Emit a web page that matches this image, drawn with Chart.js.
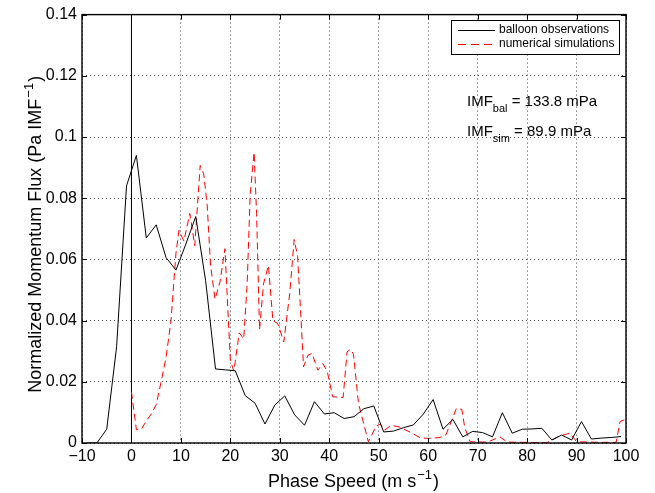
<!DOCTYPE html>
<html>
<head>
<meta charset="utf-8">
<script src="https://cdn.jsdelivr.net/npm/chart.js@4.4.1/dist/chart.umd.min.js"></script>
<style>
html,body{margin:0;padding:0;background:#fff;}
#wrap{width:655px;height:493px;}
</style>
</head>
<body>
<div id="wrap"><canvas id="c" width="655" height="493"></canvas></div>
<script>
// ---- data ----
const balloonX = [-9,-7,-5,-3,-1,1,3,5,7,9,11,13,15,17,19,21,23,25,27,29,31,33,35,37,39,41,43,45,47,49,51,53,55,57,59,61,63,65,67,69,71,73,75,77,79,81,83,85,87,89,91,93,95,97,99];
const balloonY = [0,0,0.0045,0.0315,0.084,0.094,0.067,0.0713,0.0606,0.0565,0.065,0.074,0.053,0.0242,0.0239,0.0236,0.0155,0.013,0.0062,0.0124,0.0154,0.0092,0.0058,0.0135,0.0095,0.0099,0.008,0.0086,0.0112,0.0121,0.0036,0.0039,0.005,0.0059,0.0094,0.0142,0.0045,0.0077,0.002,0.0038,0.0034,0.002,0.0099,0.0032,0.0045,0.0046,0.0048,0.001,0.0026,0.001,0.007,0.0013,0.0016,0.0018,0.0021];

const simX = [0,1,2,3,4,5,6,7,8,9,9.6,10.6,11.8,12.8,13.9,14.6,15.3,16,16.9,17.9,18.9,19.6,20,20.7,21.8,22.7,23.4,24,24.8,25.3,25.9,26.7,27.7,28.6,29.6,30.8,32,32.9,33.6,34.8,35.7,36.5,37.7,38.7,39.6,40.7,42.8,43.6,44.3,44.9,45.9,47.9,49.5,50.3,51.2,52.5,54.2,56.4,58.4,60,62.4,63.6,65.7,66.8,67.4,68.5,72,74.5,76,80,84,86.6,88.7,90,95,98,98.8,100];
const simY = [0.0167,0.0043,0.0045,0.0072,0.0095,0.0125,0.02,0.028,0.04,0.062,0.0695,0.066,0.075,0.0645,0.0907,0.088,0.078,0.058,0.047,0.0526,0.0635,0.040,0.027,0.0235,0.036,0.034,0.052,0.081,0.095,0.075,0.037,0.052,0.058,0.040,0.039,0.033,0.0488,0.0665,0.061,0.0249,0.0287,0.0293,0.0238,0.026,0.0233,0.0151,0.0149,0.0298,0.0306,0.029,0.013,0.0004,0.0055,0.0062,0.0042,0.0058,0.0052,0.0035,0.0017,0.0015,0.0018,0.0027,0.0113,0.011,0.005,0.0004,0.0003,0.002,0.0003,0.0002,0.0001,0.0023,0.0032,0.0004,0.0002,0.0002,0.007,0.0078];

const zeroLineX = 0;
const xTicks = [-10,0,10,20,30,40,50,60,70,80,90,100];
const yTicks = [0,0.02,0.04,0.06,0.08,0.1,0.12,0.14];
const seriesNames = ['balloon observations','numerical simulations'];
const annotations = [['IMF','bal',' = 133.8 mPa'],['IMF','sim',' = 89.9 mPa']];
const xTitle = ['Phase Speed (m s','\u22121',')'];
const yTitle = ['Normalized Momentum Flux (Pa IMF','\u22121',')'];

const FONT = '"Liberation Sans", Arial, Helvetica, sans-serif';

function pts(xs, ys){ return xs.map((v,i)=>({x:v,y:ys[i]})); }

function drawSup(ctx, parts, x, y, size, align){
  ctx.font = size+'px '+FONT;
  const w0 = ctx.measureText(parts[0]).width;
  ctx.font = Math.round(size*0.7)+'px '+FONT;
  const w1 = ctx.measureText(parts[1]).width;
  ctx.font = size+'px '+FONT;
  const w2 = ctx.measureText(parts[2]).width;
  let sx = align==='center' ? x-(w0+w1+w2+3)/2 : x;
  ctx.textAlign='left'; ctx.textBaseline='alphabetic';
  ctx.fillText(parts[0], sx, y);
  ctx.font = Math.round(size*0.7)+'px '+FONT;
  ctx.fillText(parts[1], sx+w0+1, y-size*0.45);
  ctx.font = size+'px '+FONT;
  ctx.fillText(parts[2], sx+w0+w1+2, y);
}

const decor = {
  id:'decor',
  afterDraw(chart){
    const {ctx, chartArea:a, scales} = chart;
    const xs = scales.x, ys = scales.y;
    ctx.save();
    ctx.strokeStyle='#000'; ctx.fillStyle='#000';
    ctx.lineWidth=1;
    ctx.beginPath();
    xs.ticks.forEach(t=>{
      const p = Math.round(xs.getPixelForValue(t.value))+0.5;
      ctx.moveTo(p,a.bottom); ctx.lineTo(p,a.bottom-5);
      ctx.moveTo(p,a.top); ctx.lineTo(p,a.top+5);
    });
    ys.ticks.forEach(t=>{
      const p = Math.round(ys.getPixelForValue(t.value))+0.5;
      ctx.moveTo(a.left,p); ctx.lineTo(a.left+5,p);
      ctx.moveTo(a.right,p); ctx.lineTo(a.right-5,p);
    });
    ctx.stroke();
    ctx.lineWidth=1.4;
    ctx.strokeRect(a.left, a.top, a.right-a.left, a.bottom-a.top);

    // legend
    const lx=451, ly=20, lw=168, lh=34;
    ctx.fillStyle='#fff';
    ctx.fillRect(lx,ly,lw,lh);
    ctx.lineWidth=1; ctx.strokeStyle='#000';
    ctx.strokeRect(lx+0.5,ly+0.5,lw,lh);
    ctx.beginPath(); ctx.moveTo(458,30.5); ctx.lineTo(495,30.5); ctx.stroke();
    ctx.strokeStyle='#ff0000'; ctx.setLineDash([8,5]);
    ctx.beginPath(); ctx.moveTo(458,44.5); ctx.lineTo(495,44.5); ctx.stroke();
    ctx.setLineDash([]);
    ctx.fillStyle='#000'; ctx.font='12px '+FONT; ctx.textAlign='left'; ctx.textBaseline='middle';
    ctx.fillText(seriesNames[0], 499, 30);
    ctx.fillText(seriesNames[1], 499, 44);

    // annotations with subscripts
    const baseY=[106,136];
    annotations.forEach((parts,i)=>{
      let x=467; const y=baseY[i];
      ctx.textBaseline='alphabetic';
      ctx.font='15px '+FONT; ctx.fillText(parts[0],x,y); x+=ctx.measureText(parts[0]).width;
      ctx.font='11px '+FONT; ctx.fillText(parts[1],x,y+6); x+=ctx.measureText(parts[1]).width;
      ctx.font='15px '+FONT; ctx.fillText(parts[2],x,y);
    });

    // axis titles
    ctx.fillStyle='#000';
    drawSup(ctx, xTitle, (a.left+a.right)/2, 487, 18, 'center');
    ctx.translate(41, (a.top+a.bottom)/2 + 5);
    ctx.rotate(-Math.PI/2);
    drawSup(ctx, yTitle, 0, 0, 18, 'center');
    ctx.restore();
  }
};

new Chart(document.getElementById('c'), {
  type:'line',
  data:{
    datasets:[
      {label:seriesNames[0], data:pts(balloonX,balloonY), borderColor:'#000', borderWidth:1, pointRadius:0, tension:0, fill:false},
      {label:seriesNames[1], data:pts(simX,simY), borderColor:'#ff0000', borderWidth:1, borderDash:[7,4], pointRadius:0, tension:0, fill:false},
      {label:'zero', data:[{x:zeroLineX,y:yTicks[0]},{x:zeroLineX,y:yTicks[yTicks.length-1]}], borderColor:'#000', borderWidth:1, pointRadius:0, fill:false}
    ]
  },
  options:{
    responsive:false, animation:false, devicePixelRatio:1,
    layout:{padding:{left:0,top:14,right:29,bottom:0}},
    plugins:{legend:{display:false}, tooltip:{enabled:false}},
    scales:{
      x:{
        type:'linear', min:xTicks[0], max:xTicks[xTicks.length-1],
        afterBuildTicks:s=>{s.ticks=xTicks.map(v=>({value:v}));},
        afterFit:s=>{s.height=50;},
        ticks:{padding:4, color:'#000', font:{family:FONT,size:16}, maxRotation:0, autoSkip:false,
          callback:v=> v<0 ? '\u2212'+Math.abs(v) : String(v)},
        grid:{color:'#444', lineWidth:1, drawTicks:false},
        border:{display:false, dash:[1,3]}
      },
      y:{
        type:'linear', min:yTicks[0], max:yTicks[yTicks.length-1],
        afterBuildTicks:s=>{s.ticks=yTicks.map(v=>({value:v}));},
        afterFit:s=>{s.width=82;},
        ticks:{padding:5, color:'#000', font:{family:FONT,size:16}, autoSkip:false,
          callback:v=> String(+v.toFixed(2))},
        grid:{color:'#444', lineWidth:1, drawTicks:false},
        border:{display:false, dash:[1,3]}
      }
    }
  },
  plugins:[decor]
});
</script>
</body>
</html>
